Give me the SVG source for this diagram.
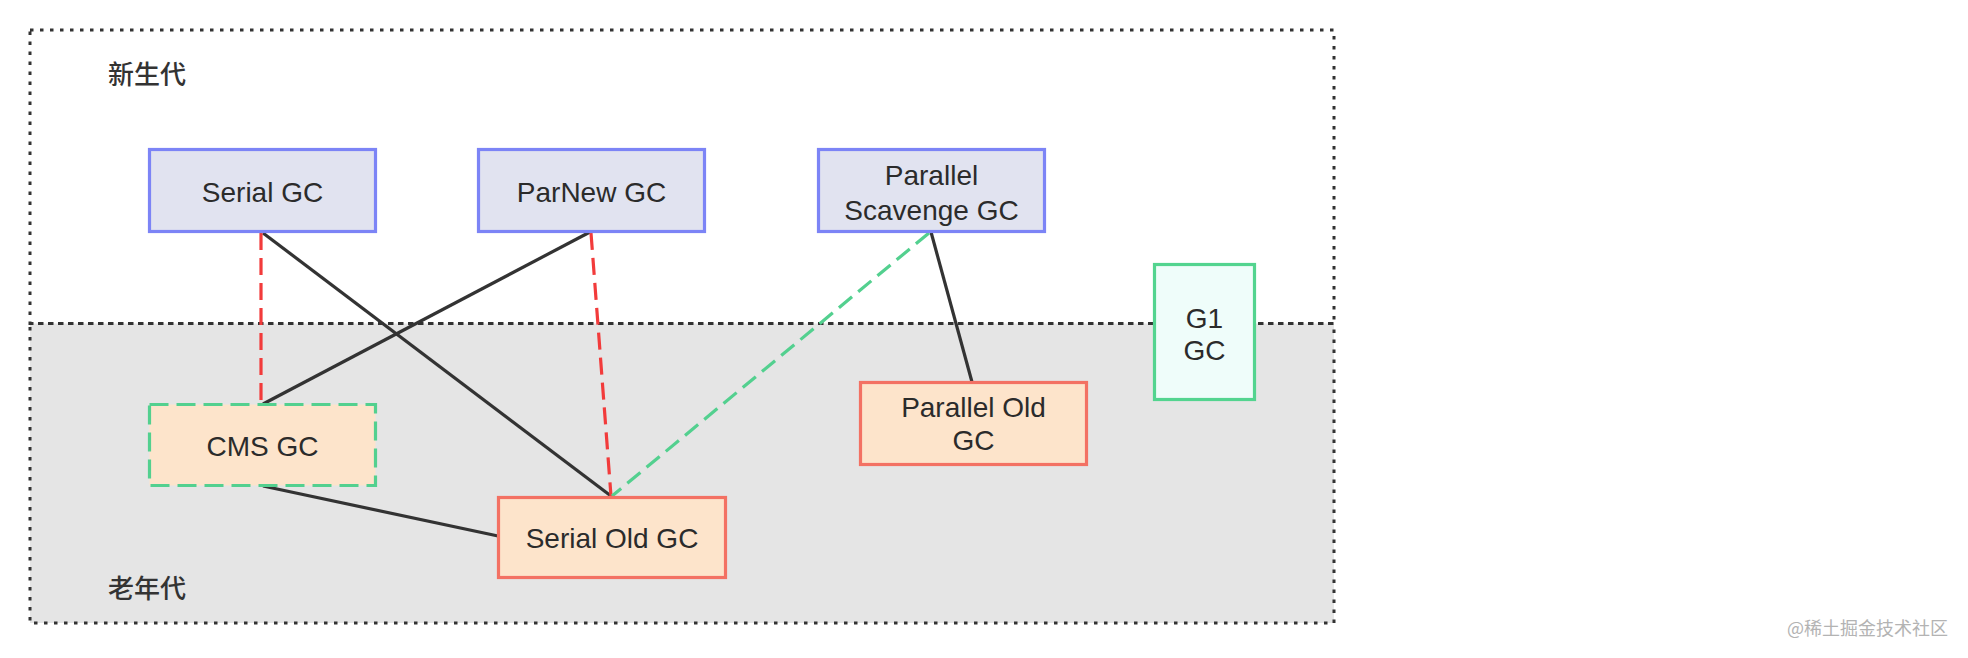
<svg xmlns="http://www.w3.org/2000/svg" width="1968" height="658" viewBox="0 0 1968 658">
  <style>
    .frame { fill: none; stroke: #333333; stroke-width: 3; stroke-dasharray: 3.5 6.5; }
    .young { fill: #e1e3f0; stroke: #7c84f6; stroke-width: 3.2; }
    .old { fill: #fde4cb; stroke: #f37163; stroke-width: 3.2; }
    .cms { fill: #fde4cb; stroke: #53d08f; stroke-width: 3.2; stroke-dasharray: 19 8; }
    .g1 { fill: #effdfa; stroke: #53d48f; stroke-width: 3.2; }
    .lbl { font-family: "Liberation Sans", Arial, sans-serif; font-size: 28px; fill: #2b2b2b; text-anchor: middle; }
    .zone { font-family: "Noto Sans CJK SC", sans-serif; font-size: 26px; font-weight: 500; fill: #333333; }
    .solid { stroke: #333333; stroke-width: 3.2; fill: none; }
    .red { stroke: #f23b3b; stroke-width: 3.2; stroke-dasharray: 17 8; fill: none; }
    .green { stroke: #53d08f; stroke-width: 3.2; stroke-dasharray: 17 8; fill: none; }
  </style>
  <rect width="1968" height="658" fill="#ffffff"/>
  <g id="zones">
    <rect x="30" y="323.5" width="1304" height="299.5" fill="#e5e5e5"/>
    <rect class="frame" x="30" y="30" width="1304" height="293.5"/>
    <rect class="frame" x="30" y="323.5" width="1304" height="299.5"/>
    <text class="zone" x="108" y="84">新生代</text>
    <text class="zone" x="108" y="598">老年代</text>
  </g>
  <g id="connectors">
    <line class="solid" x1="263" y1="233" x2="611" y2="496"/>
    <line class="solid" x1="590" y1="232" x2="263" y2="404"/>
    <line class="solid" x1="263" y1="486" x2="498" y2="536"/>
    <line class="solid" x1="931" y1="232" x2="972" y2="382"/>
    <line class="red" x1="261" y1="233" x2="261" y2="403"/>
    <line class="red" x1="591" y1="233" x2="611" y2="496"/>
    <line class="green" x1="929" y1="233" x2="612" y2="496"/>
  </g>
  <g id="serial-gc">
    <rect class="young" x="149.5" y="149.5" width="226" height="82"/>
    <text class="lbl" x="262.5" y="201.5">Serial GC</text>
  </g>
  <g id="parnew-gc">
    <rect class="young" x="478.5" y="149.5" width="226" height="82"/>
    <text class="lbl" x="591.5" y="201.5">ParNew GC</text>
  </g>
  <g id="parallel-scavenge-gc">
    <rect class="young" x="818.5" y="149.5" width="226" height="82"/>
    <text class="lbl" x="931.5" y="184.5">Parallel</text>
    <text class="lbl" x="931.5" y="220">Scavenge GC</text>
  </g>
  <g id="cms-gc">
    <rect class="cms" x="149.5" y="404.5" width="226" height="81"/>
    <text class="lbl" x="262.5" y="455.5">CMS GC</text>
  </g>
  <g id="serial-old-gc">
    <rect class="old" x="498.5" y="497.5" width="227" height="80"/>
    <text class="lbl" x="612" y="548">Serial Old GC</text>
  </g>
  <g id="parallel-old-gc">
    <rect class="old" x="860.5" y="382.5" width="226" height="82"/>
    <text class="lbl" x="973.5" y="416.5">Parallel Old</text>
    <text class="lbl" x="973.5" y="449.5">GC</text>
  </g>
  <g id="g1-gc">
    <rect class="g1" x="1154.5" y="264.5" width="100" height="135"/>
    <text class="lbl" x="1204.5" y="327.5">G1</text>
    <text class="lbl" x="1204.5" y="359.5">GC</text>
  </g>
  <text x="1948" y="635" font-family="Noto Sans CJK SC, sans-serif" font-size="18" fill="#b3b3b3" text-anchor="end">@稀土掘金技术社区</text>
</svg>
